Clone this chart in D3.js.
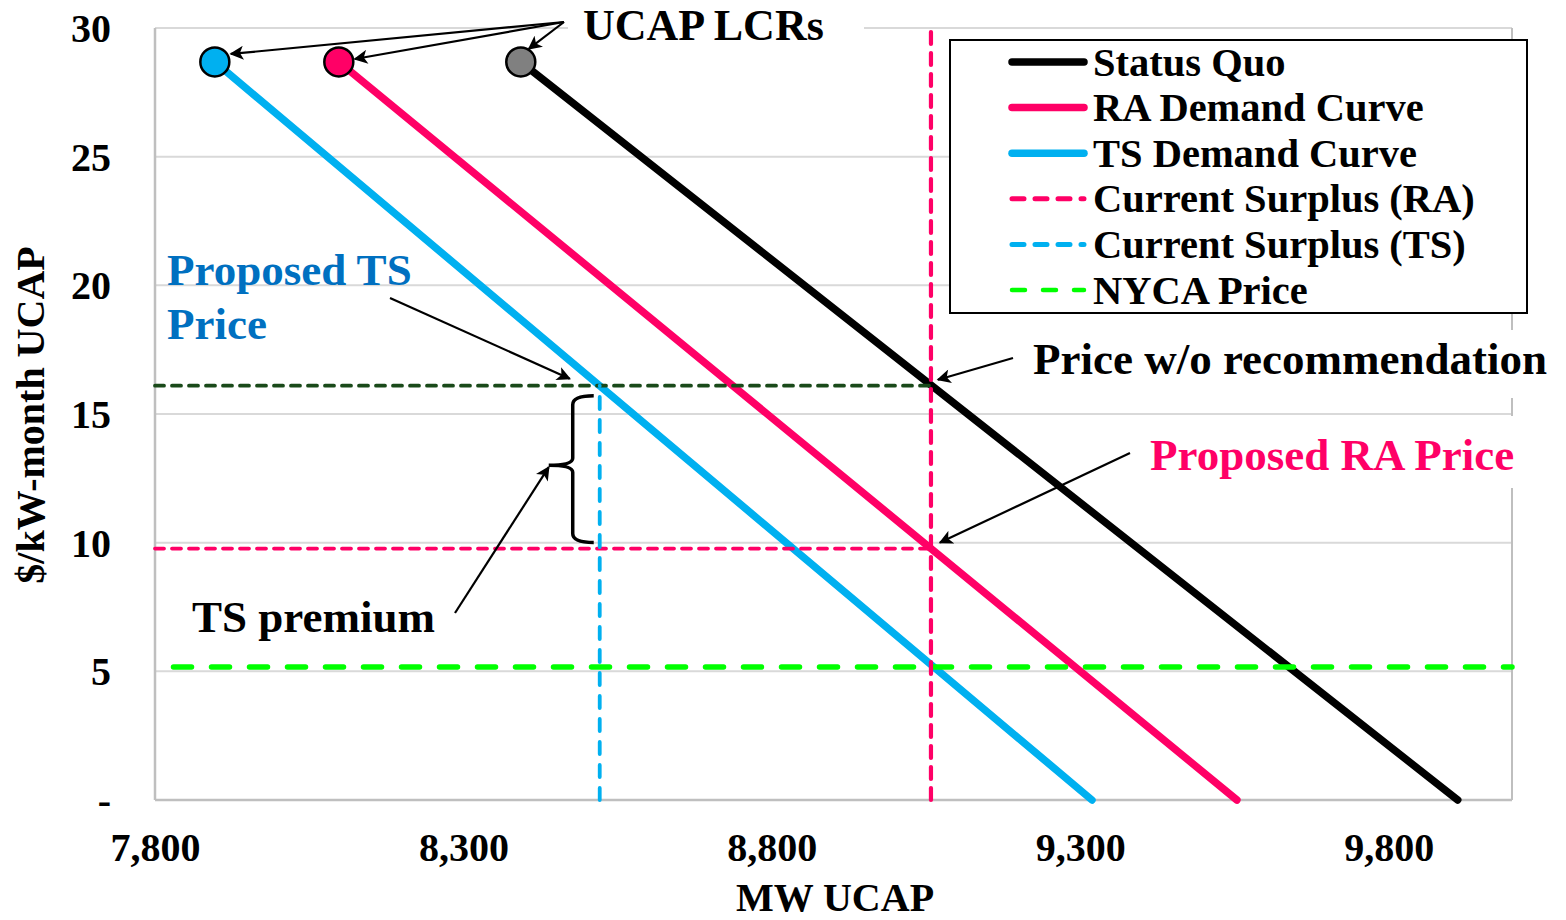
<!DOCTYPE html>
<html>
<head>
<meta charset="utf-8">
<script src="https://cdn.jsdelivr.net/npm/d3@7/dist/d3.min.js"></script>
<style>
  html, body { margin: 0; padding: 0; background: #fff; }
  svg text { font-family: "Liberation Serif", "Times New Roman", serif; font-weight: bold; }
</style>
</head>
<body>
<svg id="chart" width="1566" height="920"></svg>
<script>
// ---------------- DATA ----------------
const xTicks = [7800, 8300, 8800, 9300, 9800];
const yTicks = [0, 5, 10, 15, 20, 25, 30];
const xDomain = [7800, 10000];
const yDomain = [0, 30];

const seriesNames = ["Status Quo", "RA Demand Curve", "TS Demand Curve"];
const statusQuoMW = [8393, 9912];
const statusQuoPrice = [28.68, 0];
const raMW = [8098, 9554];
const raPrice = [28.68, 0];
const tsMW = [7897, 9319];
const tsPrice = [28.68, 0];

const raSurplusMW = 9058;      // Current Surplus (RA)
const tsSurplusMW = 8521;      // Current Surplus (TS)
const nycaPrice = 5.17;        // NYCA Price
const nycaStartMW = 7830;
const priceWithoutRec = 16.1;  // Price w/o recommendation
const proposedRAPrice = 9.77;  // Proposed RA Price

const legendLabels = ["Status Quo", "RA Demand Curve", "TS Demand Curve",
  "Current Surplus (RA)", "Current Surplus (TS)", "NYCA Price"];

// ---------------- LAYOUT ----------------
const plot = { left: 155, right: 1512, top: 28, bottom: 800 };
const C = {
  black: "#000000", pink: "#FF0066", cyan: "#00B0F0", blueText: "#0070C0",
  green: "#00FF00", darkGreen: "#1A4A1A", grid: "#D9D9D9", axis: "#BFBFBF", gray: "#808080"
};

const svg = d3.select("#chart");
const x = d3.scaleLinear().domain(xDomain).range([plot.left, plot.right]);
const y = d3.scaleLinear().domain(yDomain).range([plot.bottom, plot.top]);

// defs: arrowhead
const defs = svg.append("defs");
defs.append("marker").attr("id", "arrow").attr("viewBox", "0 0 10 10")
  .attr("refX", 9).attr("refY", 5)
  .attr("markerUnits", "userSpaceOnUse").attr("orient", "auto")
  .attr("markerWidth", 16).attr("markerHeight", 14)
  .append("path").attr("d", "M0,0 L10,5 L0,10 L2.5,5 Z").attr("fill", "#000");

// ---------------- GRID ----------------
svg.append("g").selectAll("line").data(yTicks.filter(d => d > 0)).join("line")
  .attr("x1", plot.left).attr("x2", plot.right)
  .attr("y1", d => y(d)).attr("y2", d => y(d))
  .attr("stroke", C.grid).attr("stroke-width", 2);

// plot border (left, bottom, right)
svg.append("line").attr("x1", plot.left).attr("x2", plot.left).attr("y1", plot.top).attr("y2", plot.bottom)
  .attr("stroke", C.axis).attr("stroke-width", 2.5);
svg.append("line").attr("x1", plot.right).attr("x2", plot.right).attr("y1", plot.top).attr("y2", plot.bottom)
  .attr("stroke", C.axis).attr("stroke-width", 2);
svg.append("line").attr("x1", plot.left).attr("x2", plot.right).attr("y1", plot.bottom).attr("y2", plot.bottom)
  .attr("stroke", C.axis).attr("stroke-width", 2.5);

// ---------------- AXES ----------------
const yAxis = d3.axisLeft(y).tickValues(yTicks).tickSize(0).tickPadding(0)
  .tickFormat(d => d === 0 ? "-" : d3.format("d")(d));
const gy = svg.append("g").attr("transform", `translate(111,0)`).call(yAxis);
gy.select(".domain").remove();
gy.selectAll("text").attr("font-size", 40).attr("fill", "#000")
  .attr("font-family", "Liberation Serif, Times New Roman, serif").attr("font-weight", "bold")
  .attr("dy", "0.34em");

const xAxis = d3.axisBottom(x).tickValues(xTicks).tickSize(0).tickPadding(0)
  .tickFormat(d3.format(","));
const gx = svg.append("g").attr("transform", `translate(0,833)`).call(xAxis);
gx.select(".domain").remove();
gx.selectAll("text").attr("font-size", 40).attr("fill", "#000")
  .attr("font-family", "Liberation Serif, Times New Roman, serif").attr("font-weight", "bold")
  .attr("dy", "0.7em");

svg.append("text").attr("x", 835).attr("y", 911).attr("text-anchor", "middle")
  .attr("font-size", 40).text("MW UCAP");
svg.append("text").attr("transform", "translate(44,415) rotate(-90)").attr("text-anchor", "middle")
  .attr("font-size", 40).text("$/kW-month UCAP");

// ---------------- WHITE TEXT BOXES (cover borders like the original) ----------------
svg.append("rect").attr("x", 568).attr("y", 0).attr("width", 296).attr("height", 46).attr("fill", "#fff");
svg.append("rect").attr("x", 1025).attr("y", 330).attr("width", 541).attr("height", 68).attr("fill", "#fff");
svg.append("rect").attr("x", 1140).attr("y", 416).attr("width", 386).attr("height", 72).attr("fill", "#fff");

// ---------------- SERIES ----------------
const line = d3.line().x(d => x(d[0])).y(d => y(d[1]));
const series = [
  { name: seriesNames[0], mw: statusQuoMW, p: statusQuoPrice, color: C.black, marker: C.gray },
  { name: seriesNames[1], mw: raMW, p: raPrice, color: C.pink, marker: C.pink },
  { name: seriesNames[2], mw: tsMW, p: tsPrice, color: C.cyan, marker: C.cyan }
];
series.forEach(s => {
  svg.append("path").datum(s.mw.map((m, i) => [m, s.p[i]]))
    .attr("d", line).attr("fill", "none").attr("stroke", s.color)
    .attr("stroke-width", 7.5).attr("stroke-linecap", "round");
});

// ---------------- REFERENCE DASHED LINES ----------------
svg.append("path").datum([[xDomain[0], priceWithoutRec], [raSurplusMW, priceWithoutRec]])
  .attr("d", line).attr("stroke", C.darkGreen).attr("stroke-width", 3.8)
  .attr("stroke-dasharray", "9,8").attr("stroke-linecap", "round").attr("fill", "none");
svg.append("path").datum([[xDomain[0], proposedRAPrice], [raSurplusMW, proposedRAPrice]])
  .attr("d", line).attr("stroke", C.pink).attr("stroke-width", 3.8)
  .attr("stroke-dasharray", "9,8").attr("stroke-linecap", "round").attr("fill", "none");
svg.append("path").datum([[nycaStartMW, nycaPrice], [xDomain[1], nycaPrice]])
  .attr("d", line).attr("stroke", C.green).attr("stroke-width", 5.5)
  .attr("stroke-dasharray", "18,20").attr("stroke-linecap", "round").attr("fill", "none");
svg.append("path").datum([[raSurplusMW, yDomain[0]], [raSurplusMW, yDomain[1]]])
  .attr("d", line).attr("stroke", C.pink).attr("stroke-width", 4.2)
  .attr("stroke-dasharray", "12,9").attr("stroke-linecap", "round").attr("fill", "none");
svg.append("path").datum([[tsSurplusMW, yDomain[0]], [tsSurplusMW, priceWithoutRec]])
  .attr("d", line).attr("stroke", C.cyan).attr("stroke-width", 3.8)
  .attr("stroke-dasharray", "12,11").attr("stroke-linecap", "round").attr("fill", "none");

// ---------------- MARKERS (UCAP LCRs) ----------------
series.forEach(s => {
  svg.append("circle").attr("cx", x(s.mw[0])).attr("cy", y(s.p[0])).attr("r", 14.5)
    .attr("fill", s.marker).attr("stroke", "#000").attr("stroke-width", 2.5);
});

// ---------------- ANNOTATIONS ----------------
function arrow(x1, y1, x2, y2, w) {
  svg.append("line").attr("x1", x1).attr("y1", y1).attr("x2", x2).attr("y2", y2)
    .attr("stroke", "#000").attr("stroke-width", w || 2.2).attr("marker-end", "url(#arrow)");
}
svg.append("text").attr("x", 583).attr("y", 40).attr("font-size", 44).attr("fill", "#000").text("UCAP LCRs");
const lcrOrigin = [564, 22];
arrow(lcrOrigin[0], lcrOrigin[1], x(tsMW[0]) + 16, y(tsPrice[0]) - 8);
arrow(lcrOrigin[0], lcrOrigin[1], x(raMW[0]) + 16, y(raPrice[0]) - 3);
arrow(lcrOrigin[0], lcrOrigin[1], x(statusQuoMW[0]) + 8, y(statusQuoPrice[0]) - 13);

svg.append("text").attr("x", 167).attr("y", 285).attr("font-size", 45).attr("fill", C.blueText).text("Proposed TS");
svg.append("text").attr("x", 167).attr("y", 339).attr("font-size", 45).attr("fill", C.blueText).text("Price");
arrow(390, 298, x(tsSurplusMW) - 30, y(priceWithoutRec) - 7);

svg.append("text").attr("x", 1033).attr("y", 374).attr("font-size", 45).attr("fill", "#000").text("Price w/o recommendation");
arrow(1013, 358, x(raSurplusMW) + 7, y(priceWithoutRec) - 6);

svg.append("text").attr("x", 1150).attr("y", 470).attr("font-size", 45).attr("fill", C.pink).text("Proposed RA Price");
arrow(1130, 453, x(raSurplusMW) + 9, y(proposedRAPrice) - 6);

const bx = x(tsSurplusMW) - 6;
const bv = bx - 21;
const bTop = y(priceWithoutRec) + 10;
const bBot = y(proposedRAPrice) - 6;
const bMid = (bTop + bBot) / 2 - 4;
const brace = `M${bx},${bTop} Q${bv},${bTop} ${bv},${bTop + 9} L${bv},${bMid - 7} Q${bv},${bMid} ${bv - 24},${bMid}` +
  ` Q${bv},${bMid} ${bv},${bMid + 7} L${bv},${bBot - 9} Q${bv},${bBot} ${bx},${bBot}`;
svg.append("path").attr("d", brace).attr("fill", "none").attr("stroke", "#000").attr("stroke-width", 3.5);
svg.append("text").attr("x", 192).attr("y", 632).attr("font-size", 45).attr("fill", "#000").text("TS premium");
arrow(455, 613, bv - 24, bMid + 2);

// ---------------- LEGEND ----------------
const lg = svg.append("g");
lg.append("rect").attr("x", 950).attr("y", 40).attr("width", 577).attr("height", 273)
  .attr("fill", "#fff").attr("stroke", "#000").attr("stroke-width", 2);
const legendStyles = [
  { color: C.black, w: 7.5, dash: null },
  { color: C.pink, w: 7.5, dash: null },
  { color: C.cyan, w: 7.5, dash: null },
  { color: C.pink, w: 5, dash: "12,11" },
  { color: C.cyan, w: 5, dash: "12,11" },
  { color: C.green, w: 4.5, dash: "13,18" }
];
const rowY = d3.scaleLinear().domain([0, 5]).range([62, 290]);
legendLabels.forEach((lab, i) => {
  const st = legendStyles[i];
  const ln = lg.append("line").attr("x1", 1012).attr("x2", 1084)
    .attr("y1", rowY(i)).attr("y2", rowY(i))
    .attr("stroke", st.color).attr("stroke-width", st.w).attr("stroke-linecap", "round");
  if (st.dash) ln.attr("stroke-dasharray", st.dash);
  lg.append("text").attr("x", 1093).attr("y", rowY(i) + 13.5).attr("font-size", 40.5).attr("fill", "#000").text(lab);
});
</script>
</body>
</html>
